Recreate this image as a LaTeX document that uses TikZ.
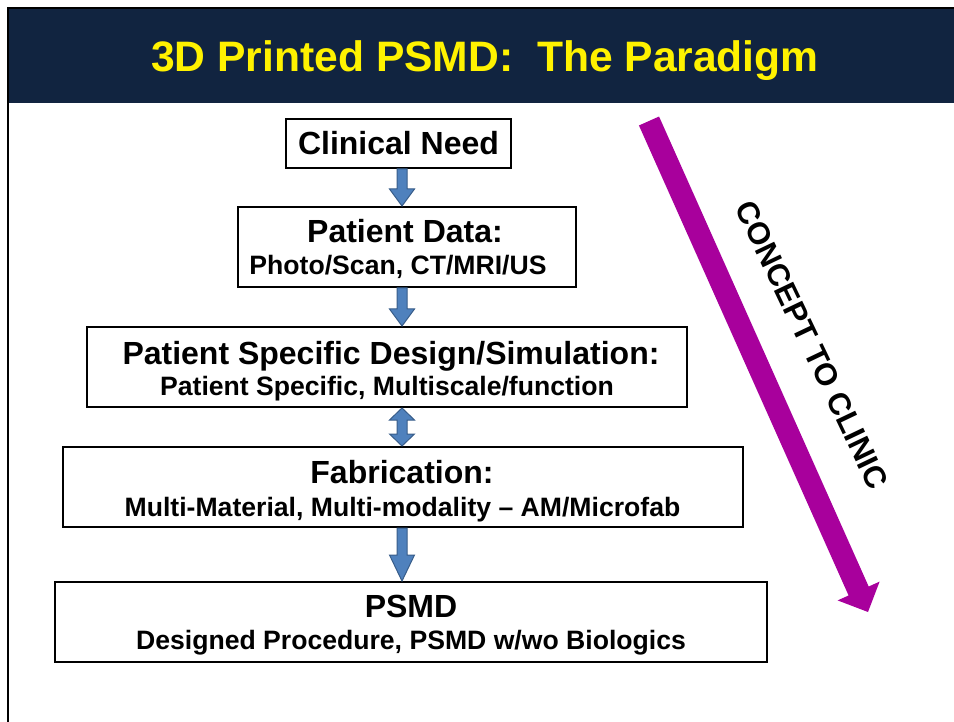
\documentclass[tikz,border=0pt]{standalone}
\usepackage{fontspec}
\setmainfont{Liberation Sans}
\usetikzlibrary{calc}
\definecolor{navy}{RGB}{17,36,64}
\definecolor{ablue}{RGB}{79,129,189}
\definecolor{ablueline}{RGB}{56,93,138}
\definecolor{magent}{RGB}{168,0,156}
\newcommand\downblock[3]{%
  \draw[barrow] let \p1=(#1.south), \p2=(#2.north) in
    ({397pt},\y1) -- ({407pt},\y1) -- ({407pt},{\y2+#3}) -- ({414.5pt},{\y2+#3})
    -- ({402pt},\y2) -- ({389.5pt},{\y2+#3}) -- ({397pt},{\y2+#3}) -- cycle;}
\begin{document}
\begin{tikzpicture}[x=1pt,y=-1pt,
  box/.style={draw=black, line width=2pt, fill=white, inner sep=0pt, rectangle},
  headtxt/.style={font=\fontsize{32}{38}\selectfont\bfseries, anchor=base, inner sep=0pt},
  subtxt/.style={font=\fontsize{26.6}{32}\selectfont\bfseries, anchor=base, inner sep=0pt},
  titletxt/.style={font=\fontsize{42.6}{50}\selectfont\bfseries, text=yellow, anchor=base, inner sep=0pt},
  barrow/.style={fill=ablue, draw=ablueline, line width=1pt, line join=miter}]
\useasboundingbox (0,0) rectangle (954,722);
\fill[white] (0,0) rectangle (954,722);
\fill[navy] (8,8) rectangle (954,103);
\draw[black, line width=2.5pt] (8,722) -- (8,8) -- (954,8);
\node[titletxt] (title) at (485,72) {3D Printed PSMD:\ \ The Paradigm};

% boxes
\node[box, minimum width=225pt, minimum height=49pt] (need) at (398.5,143.5) {};
\node[box, minimum width=338pt, minimum height=80pt] (data) at (407,247) {};
\node[box, minimum width=600pt, minimum height=80pt] (design) at (387,367) {};
\node[box, minimum width=680pt, minimum height=80pt] (fab) at (403,487) {};
\node[box, minimum width=712pt, minimum height=80pt] (psmd) at (411,622) {};

% texts
\node[headtxt] (needT) at (398.5,155) {Clinical Need};
\node[headtxt] (dataH) at (405,243) {Patient Data:};
\node[subtxt] (dataS) at (398,275) {Photo/Scan, CT/MRI/US};
\node[headtxt] (designH) at (391,364) {Patient Specific Design/Simulation:};
\node[subtxt] (designS) at (387,395) {Patient Specific, Multiscale/function};
\node[headtxt] (fabH) at (402,483) {Fabrication:};
\node[subtxt] (fabS) at (402.5,516) {Multi-Material, Multi-modality -- AM/Microfab};
\node[headtxt] (psmdH) at (411,617) {PSMD};
\node[subtxt] (psmdS) at (411,649) {Designed Procedure, PSMD w/wo Biologics};

% block arrows
\downblock{need}{data}{17pt}
\downblock{data}{design}{17pt}
\draw[barrow] let \p1=(design.south), \p2=(fab.north) in
  ({402pt},\y1) -- ({414.5pt},{\y1-12pt}) -- ({407pt},{\y1-12pt}) -- ({407pt},{\y2+12pt})
  -- ({414.5pt},{\y2+12pt}) -- ({402pt},\y2) -- ({389.5pt},{\y2+12pt}) -- ({397pt},{\y2+12pt})
  -- ({397pt},{\y1-12pt}) -- ({389.5pt},{\y1-12pt}) -- cycle;
\downblock{fab}{psmd}{26pt}

% concept to clinic arrow
\coordinate (mtail) at (649,121);
\coordinate (mtip) at (868,612);
\fill[magent] (638.95,125.48) -- (659.05,116.52) -- (868.68,586.52) -- (879.6,581.6)
  -- (mtip) -- (837.6,600.4) -- (848.58,595.48) -- cycle;
\node[rotate=-64.5, font=\fontsize{31}{36}\selectfont\bfseries, inner sep=0pt] (c2c) at (812,345) {CONCEPT TO CLINIC};
\end{tikzpicture}
\end{document}
